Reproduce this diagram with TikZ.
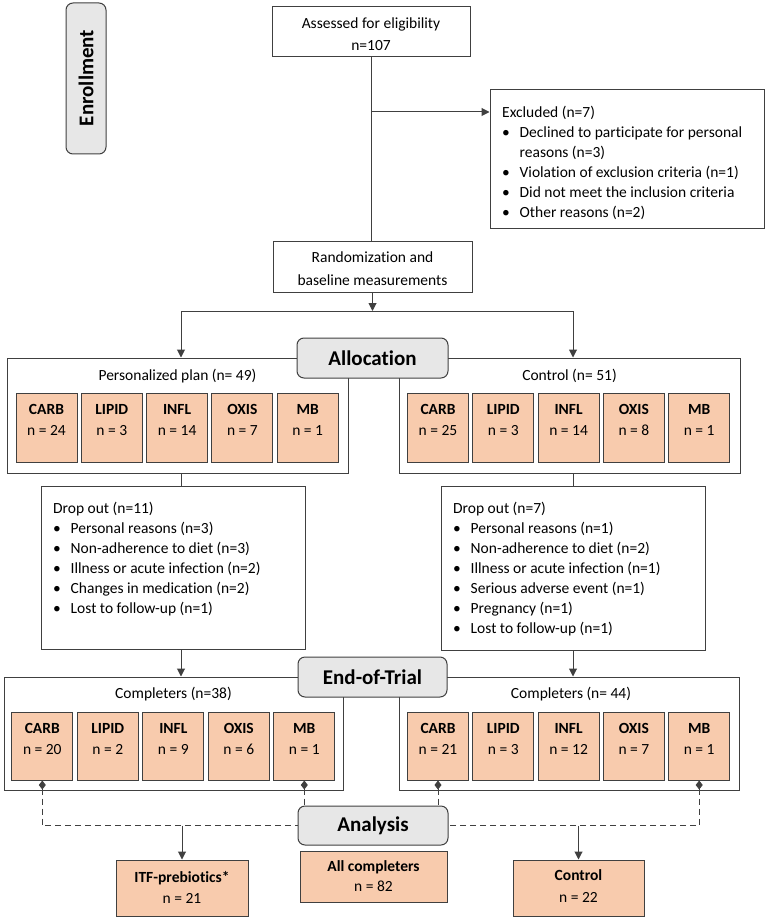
\documentclass[tikz,border=0pt]{standalone}
\usepackage{fontspec}
\setmainfont{Carlito}[Ligatures={NoCommon}]
\usetikzlibrary{arrows.meta}
\definecolor{linec}{HTML}{404040}
\definecolor{peach}{HTML}{F8CBAD}
\definecolor{grayf}{HTML}{E7E7E7}
\newcommand\mkbox[6]{\node[#6, minimum width={(#4)-(#2)}, minimum height={(#5)-(#3)}] (#1) at ({((#2)+(#4))/2},{((#3)+(#5))/2}) {};}
\newcommand\subb[7]{%
  \mkbox{#1}{#2}{#3}{#4}{#5}{pbox}
  \node[btxt, anchor=base] (#1l) at ({((#2)+(#4))/2},{(#3)+21.5}) {#6};
  \node[txt, anchor=base] (#1n) at ({((#2)+(#4))/2},{(#3)+42.5}) {#7};}
\newcommand\bul{\makebox[17.5pt][l]{\textbullet}}
\newcommand\ind{\hspace*{17.5pt}}
\tikzset{
  wbox/.style={draw=linec, line width=1pt, fill=white, inner sep=0pt},
  rbox/.style={draw=linec, line width=1pt, fill=grayf, rounded corners=7pt, inner sep=0pt},
  pbox/.style={draw=linec, line width=1pt, fill=peach, inner sep=0pt},
  txt/.style={inner sep=0pt, font=\fontsize{15.5}{20}\selectfont},
  btxt/.style={inner sep=0pt, font=\fontsize{15.5}{20}\selectfont\bfseries},
  head/.style={inner sep=0pt, font=\fontsize{21}{25}\selectfont\bfseries},
  conn/.style={draw=linec, line width=1pt},
  arr/.style={conn, -{Triangle[width=8pt,length=8pt]}},
  dsh/.style={conn, dash pattern=on 6pt off 4pt, {Diamond[width=7pt,length=9pt]}-},
}
\begin{document}
\begin{tikzpicture}[x=1pt,y=-1pt]
\useasboundingbox (0,0) rectangle (767,920);
% Enrollment
\mkbox{enr}{66}{3}{106}{154}{rbox}
\node[head, rotate=90] (enrt) at (86,78) {Enrollment};
% Assessed
\mkbox{ass}{272}{7}{470}{57}{wbox}
\node[txt, anchor=base] (asst1) at (371,28.5) {Assessed for eligibility};
\node[txt, anchor=base] (asst2) at (371,51) {n=107};
% Excluded
\mkbox{exc}{490}{90}{764}{228}{wbox}
\node[inner sep=0pt, font=\fontsize{15.5}{19.9}\selectfont, align=left, anchor=north west] (exct) at (502,105.3)
 {\rule{0pt}{12pt}Excluded (n=7)\\
  \bul Declined to participate for personal\\
  \ind reasons (n=3)\\
  \bul Violation of exclusion criteria (n=1)\\
  \bul Did not meet the inclusion criteria\\
  \bul Other reasons (n=2)};
% Randomization
\mkbox{rand}{273}{241}{472}{292}{wbox}
\node[txt, anchor=base] (randt1) at (372.5,262) {Randomization and};
\node[txt, anchor=base] (randt2) at (372.5,285) {baseline measurements};
% connectors top
\draw[conn] (ass.south) -- (ass.south |- rand.north);
\coordinate (exj) at (371,112);
\draw[arr] (exj) -- (exj -| exc.west);
\coordinate (sp) at (372.5,311);
\coordinate (spl) at (181,311);
\coordinate (spr) at (573,311);
\draw[arr] (rand.south) -- (sp);
\draw[conn] (spl) -- (spr);
% Allocation groups
\mkbox{lg}{7}{358}{348}{473}{wbox}
\mkbox{rg}{399}{358}{740}{473}{wbox}
\draw[arr] (spl) -- (spl |- lg.north);
\draw[arr] (spr) -- (spr |- rg.north);
\node[txt, anchor=base] (lgt) at (177.5,380) {Personalized plan (n= 49)};
\node[txt, anchor=base] (rgt) at (569.5,380) {Control (n= 51)};
\foreach \lab/\num [count=\i from 0] in {CARB/24,LIPID/3,INFL/14,OXIS/7,MB/1}{
  \subb{a\i}{16+65.3*\i}{393}{77+65.3*\i}{462}{\lab}{n = \num}}
\foreach \lab/\num [count=\i from 0] in {CARB/25,LIPID/3,INFL/14,OXIS/8,MB/1}{
  \subb{b\i}{407.5+65.3*\i}{393}{468.5+65.3*\i}{462}{\lab}{n = \num}}
\mkbox{alloc}{297}{338}{448}{378}{rbox}
\node[head] (alloct) at (372.5,358.5) {Allocation};
% Drop out
\mkbox{ld}{41}{486}{305}{649}{wbox}
\mkbox{rd}{441}{486}{705}{650}{wbox}
\node[txt, align=left, anchor=north west] (ldt) at (53,501.3)
 {\rule{0pt}{12pt}Drop out (n=11)\\
  \bul Personal reasons (n=3)\\
  \bul Non-adherence to diet (n=3)\\
  \bul Illness or acute infection (n=2)\\
  \bul Changes in medication (n=2)\\
  \bul Lost to follow-up (n=1)};
\node[txt, align=left, anchor=north west] (rdt) at (453,501.3)
 {\rule{0pt}{12pt}Drop out (n=7)\\
  \bul Personal reasons (n=1)\\
  \bul Non-adherence to diet (n=2)\\
  \bul Illness or acute infection (n=1)\\
  \bul Serious adverse event (n=1)\\
  \bul Pregnancy (n=1)\\
  \bul Lost to follow-up (n=1)};
\draw[conn] (spl |- lg.south) -- (spl |- ld.north);
\draw[conn] (spr |- rg.south) -- (spr |- rd.north);
% End of trial groups
\mkbox{lc}{4}{677}{343}{790}{wbox}
\mkbox{rc}{399}{677}{739}{790}{wbox}
\draw[arr] (spl |- ld.south) -- (spl |- lc.north);
\draw[arr] (spr |- rd.south) -- (spr |- rc.north);
\node[txt, anchor=base] (lct) at (173.5,698) {Completers (n=38)};
\node[txt, anchor=base] (rct) at (571,698) {Completers (n= 44)};
\foreach \lab/\num [count=\i from 0] in {CARB/20,LIPID/2,INFL/9,OXIS/6,MB/1}{
  \subb{c\i}{11.8+65.5*\i}{712}{72.8+65.5*\i}{780}{\lab}{n = \num}}
\foreach \lab/\num [count=\i from 0] in {CARB/21,LIPID/3,INFL/12,OXIS/7,MB/1}{
  \subb{d\i}{407.5+65.3*\i}{712}{468.5+65.3*\i}{780}{\lab}{n = \num}}
\mkbox{eot}{298}{657}{447}{697}{rbox}
\node[head] (eott) at (372.5,677.5) {End-of-Trial};
% Analysis
\mkbox{ana}{298}{806}{448}{845}{rbox}
\node[head] (anat) at (373,826) {Analysis};
\draw[dsh] (c0.south) |- (ana.west);
\draw[dsh] (c4.south) -- (c4.south |- ana.north);
\draw[dsh] (d0.south) -- (d0.south |- ana.north);
\draw[dsh] (d4.south) |- (ana.east);
% Analysis outputs
\mkbox{itf}{116}{860}{248}{916}{pbox}
\node[btxt, anchor=base] (itft1) at (182,882) {ITF-prebiotics*};
\node[txt, anchor=base] (itft2) at (182,903) {n = 21};
\mkbox{allc}{300}{851}{447}{902}{pbox}
\node[btxt, anchor=base] (allct1) at (373.5,871) {All completers};
\node[txt, anchor=base] (allct2) at (373.5,891) {n = 82};
\mkbox{ctl}{513}{860}{644}{916}{pbox}
\node[btxt, anchor=base] (ctlt1) at (578.5,880) {Control};
\node[txt, anchor=base] (ctlt2) at (578.5,902) {n = 22};
\draw[arr] (itf.north |- ana.west) -- (itf.north);
\draw[arr] (ctl.north |- ana.east) -- (ctl.north);
\end{tikzpicture}
\end{document}
